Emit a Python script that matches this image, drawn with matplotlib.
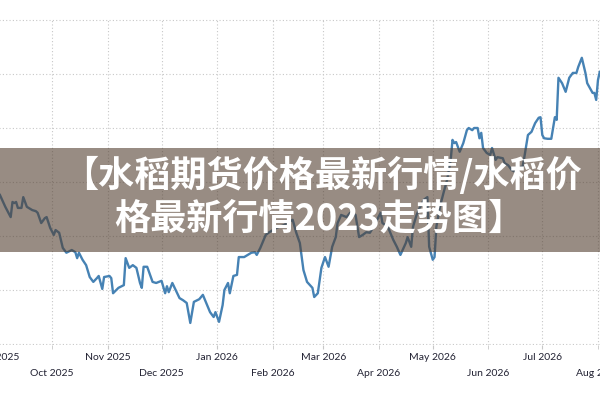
import matplotlib
matplotlib.use("Agg")
import matplotlib.pyplot as plt
import matplotlib.dates as mdates
from matplotlib.patches import Rectangle
import datetime as dt

# ---------------- data ----------------
dates = [
    "2025-09-02", "2025-09-05", "2025-09-08", "2025-09-09", "2025-09-10", "2025-09-11",
    "2025-09-12", "2025-09-14", "2025-09-15", "2025-09-17", "2025-09-20", "2025-09-22",
    "2025-09-23", "2025-09-25", "2025-09-27", "2025-09-28", "2025-09-30", "2025-10-02",
    "2025-10-03", "2025-10-05", "2025-10-07", "2025-10-09", "2025-10-12", "2025-10-14",
    "2025-10-15", "2025-10-16", "2025-10-18", "2025-10-20", "2025-10-22", "2025-10-24",
    "2025-10-26", "2025-10-27", "2025-10-29", "2025-10-30", "2025-11-02", "2025-11-03",
    "2025-11-04", "2025-11-07", "2025-11-10", "2025-11-11", "2025-11-12", "2025-11-13",
    "2025-11-15", "2025-11-17", "2025-11-19", "2025-11-20", "2025-11-21", "2025-11-23",
    "2025-11-26", "2025-11-28", "2025-12-01", "2025-12-03", "2025-12-04", "2025-12-05",
    "2025-12-07", "2025-12-08", "2025-12-11", "2025-12-13", "2025-12-15", "2025-12-17",
    "2025-12-19", "2025-12-22", "2025-12-24", "2025-12-25", "2025-12-28", "2025-12-30",
    "2025-12-31", "2026-01-02", "2026-01-04", "2026-01-05", "2026-01-07", "2026-01-08",
    "2026-01-10", "2026-01-12", "2026-01-13", "2026-01-16", "2026-01-20", "2026-01-22",
    "2026-01-23", "2026-01-25", "2026-01-28", "2026-01-30", "2026-02-03", "2026-02-07",
    "2026-02-09", "2026-02-12", "2026-02-14", "2026-02-16", "2026-02-18", "2026-02-20",
    "2026-02-23", "2026-02-24", "2026-02-26", "2026-02-28", "2026-03-02", "2026-03-04",
    "2026-03-06", "2026-03-08", "2026-03-09", "2026-03-11", "2026-03-14", "2026-03-16",
    "2026-03-19", "2026-03-21", "2026-03-23", "2026-03-25", "2026-03-27", "2026-03-29",
    "2026-04-02", "2026-04-03", "2026-04-06", "2026-04-09", "2026-04-11", "2026-04-13",
    "2026-04-16", "2026-04-17", "2026-04-19", "2026-04-20", "2026-04-22", "2026-04-24",
    "2026-04-26", "2026-04-28", "2026-04-29", "2026-05-01", "2026-05-02", "2026-05-03",
    "2026-05-05", "2026-05-07", "2026-05-09", "2026-05-11", "2026-05-12", "2026-05-13",
    "2026-05-14", "2026-05-16", "2026-05-18", "2026-05-20", "2026-05-21", "2026-05-23",
    "2026-05-24", "2026-05-26", "2026-05-27", "2026-05-28", "2026-05-29", "2026-05-31",
    "2026-06-02", "2026-06-03", "2026-06-05", "2026-06-06", "2026-06-09", "2026-06-10",
    "2026-06-12", "2026-06-14", "2026-06-17", "2026-06-19", "2026-06-20", "2026-06-21",
    "2026-06-23", "2026-06-25", "2026-06-27", "2026-06-29", "2026-06-30", "2026-07-01",
    "2026-07-02", "2026-07-04", "2026-07-06", "2026-07-08", "2026-07-09", "2026-07-10",
    "2026-07-12", "2026-07-14", "2026-07-16", "2026-07-18", "2026-07-20", "2026-07-21",
    "2026-07-23", "2026-07-25", "2026-07-26", "2026-07-29", "2026-07-30", "2026-07-31",
    "2026-08-01", "2026-08-02",
]
prices = [
    2776, 2754, 2735, 2763, 2761, 2763, 2752, 2752, 2772, 2754, 2748, 2746,
    2743, 2724, 2733, 2735, 2715, 2702, 2711, 2706, 2678, 2669, 2674, 2670,
    2659, 2669, 2656, 2646, 2624, 2615, 2622, 2626, 2602, 2624, 2626, 2622,
    2594, 2604, 2609, 2659, 2650, 2641, 2646, 2641, 2613, 2604, 2643, 2643,
    2615, 2613, 2617, 2594, 2607, 2596, 2613, 2606, 2585, 2581, 2576, 2539,
    2578, 2583, 2591, 2583, 2559, 2550, 2559, 2541, 2572, 2600, 2613, 2594,
    2626, 2628, 2661, 2661, 2669, 2670, 2665, 2678, 2702, 2707, 2715, 2720,
    2724, 2730, 2706, 2687, 2637, 2615, 2604, 2587, 2594, 2641, 2661, 2643,
    2680, 2698, 2724, 2739, 2735, 2743, 2739, 2698, 2702, 2707, 2706, 2717,
    2743, 2724, 2717, 2693, 2680, 2665, 2687, 2698, 2680, 2717, 2739, 2754,
    2767, 2772, 2680, 2656, 2661, 2717, 2754, 2780, 2804, 2841, 2878, 2872,
    2874, 2856, 2872, 2896, 2900, 2896, 2900, 2900, 2881, 2891, 2863, 2854,
    2850, 2863, 2841, 2846, 2844, 2835, 2831, 2822, 2817, 2828, 2828, 2846,
    2887, 2893, 2909, 2919, 2920, 2887, 2881, 2880, 2880, 2920, 2915, 2993,
    2983, 2967, 2993, 3002, 3002, 3013, 3030, 3002, 2983, 2965, 2965, 2952,
    2989, 3004,
]
row1_ticks = ["2025-09-01", "2025-11-01", "2026-01-01", "2026-03-01", "2026-05-01", "2026-07-01"]
row1_labels = ["Sep 2025", "Nov 2025", "Jan 2026", "Mar 2026", "May 2026", "Jul 2026"]
row2_ticks = ["2025-10-01", "2025-12-01", "2026-02-01", "2026-04-01", "2026-06-01", "2026-08-01"]
row2_labels = ["Oct 2025", "Dec 2025", "Feb 2026", "Apr 2026", "Jun 2026", "Aug 2026"]
y_grid = [2500, 2600, 2700, 2800, 2900, 3000, 3100]
title_line1 = "【水稻期货价格最新行情/水稻价"
title_line2 = "格最新行情2023走势图】"

# ---------------- layout ----------------
W, H = 600, 400
fig = plt.figure(figsize=(W / 100, H / 100), dpi=100)
fig.patch.set_facecolor("white")

def dnum(s):
    return mdates.date2num(dt.datetime.strptime(s, "%Y-%m-%d"))

ref_num = dnum("2025-10-01")
ref_px = 52.0
px_per_day = 1.796
xlim0 = dnum("2025-08-25")
xlim1 = dnum("2026-08-10")
left_px = ref_px + (xlim0 - ref_num) * px_per_day
right_px = ref_px + (xlim1 - ref_num) * px_per_day
px_per_unit = 0.54
ylo, yhi = y_grid[0] - 1, y_grid[-1] + 1
top_px = 20 - 1 * px_per_unit
bot_px = 344 + 1 * px_per_unit

ax = fig.add_axes([left_px / W, 1 - bot_px / H, (right_px - left_px) / W, (bot_px - top_px) / H])
ax.set_facecolor("white")

xs = [dt.datetime.strptime(s, "%Y-%m-%d") for s in dates]
ax.plot(xs, prices, color="#4682b4", linewidth=1.7, solid_joinstyle="round", zorder=3)

ax.set_xlim(xlim0, xlim1)
ax.set_ylim(ylo, yhi)

ax.set_xticks([dnum(s) for s in row1_ticks], row1_labels)
ax.set_xticks([dnum(s) for s in row2_ticks], row2_labels, minor=True)
ax.set_yticks(y_grid)

grid_kw = dict(color="#c8c8c8", linestyle=(0, (1, 2)), linewidth=0.8)
ax.grid(True, which="both", axis="x", **grid_kw)
ax.grid(True, which="major", axis="y", **grid_kw)

for sp in ax.spines.values():
    sp.set_visible(False)

ax.tick_params(axis="y", left=False, labelleft=False)
ax.tick_params(axis="x", which="major", length=3, color="#c8c8c8", pad=3,
               labelsize=7.5, labelcolor="#222233")
ax.tick_params(axis="x", which="minor", length=3, color="#c8c8c8", pad=14.5,
               labelsize=7.5, labelcolor="#222233")
for lab in ax.get_xticklabels(which="both"):
    lab.set_fontfamily("Lato")

# ---------------- banner overlay ----------------
fig.add_artist(Rectangle((0, 1 - 252 / H), 1, 104 / H, transform=fig.transFigure,
                         facecolor=(83 / 255, 63 / 255, 48 / 255), alpha=0.6,
                         edgecolor="none", zorder=5))
cjk = ["Noto Sans CJK SC", "DejaVu Sans"]
fig.text(62 / W, 1 - 176 / H, title_line1, fontsize=26, fontweight="bold",
         color="white", family=cjk, ha="left", va="center", zorder=6)
fig.text(114 / W, 1 - 219 / H, title_line2, fontsize=26, fontweight="bold",
         color="white", family=cjk, ha="left", va="center", zorder=6)

fig.savefig("out.png", dpi=100, facecolor="white")
